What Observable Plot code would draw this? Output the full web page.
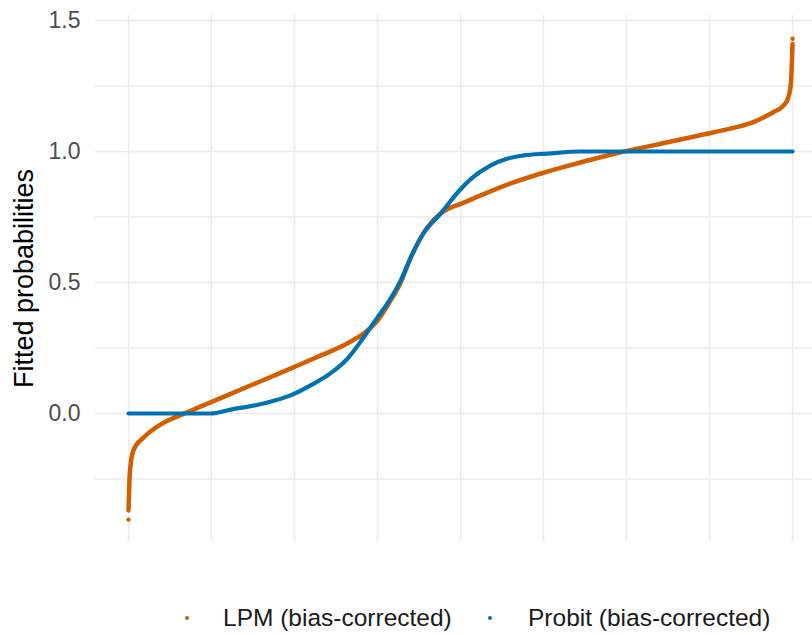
<!DOCTYPE html>
<html>
<head>
<meta charset="utf-8">
<script src="https://cdn.jsdelivr.net/npm/d3@7"></script>
<script src="https://cdn.jsdelivr.net/npm/@observablehq/plot@0.6"></script>
<style>
  html, body { margin: 0; padding: 0; background: #fff; }
  body { width: 812px; height: 635px; overflow: hidden; font-family: "Liberation Sans", Arial, sans-serif; }
  #wrap { position: relative; width: 812px; height: 635px; }
  .leg { position: absolute; top: 603px; display: flex; align-items: center; font-size: 24.5px; color: #1a1a1a; white-space: nowrap; }
  .key { width: 18px; height: 30px; display: flex; align-items: center; justify-content: center; }
  .key span { width: 4px; height: 4px; border-radius: 50%; display: block; }
</style>
</head>
<body>
<div id="wrap">
  <div id="chart"></div>
  <div class="leg" style="left:178px"><div class="key"><span style="background:#D55E00"></span></div><div style="margin-left:27px">LPM (bias-corrected)</div></div>
  <div class="leg" style="left:481px"><div class="key"><span style="background:#0072B2"></span></div><div style="margin-left:29px">Probit (bias-corrected)</div></div>
</div>
<script>
const rankLPM = [0, 0.0015, 0.003, 0.0075, 0.0226, 0.0377, 0.0587, 0.0783, 0.1084, 0.128, 0.179, 0.229, 0.279, 0.33, 0.354, 0.375, 0.392, 0.41, 0.425, 0.45, 0.47, 0.505, 0.545, 0.58, 0.62, 0.666, 0.711, 0.756, 0.812, 0.861, 0.911, 0.937, 0.971, 0.985, 0.992, 0.997, 0.9985, 1.0];
const lpmFitted = [-0.37, -0.25, -0.20, -0.14, -0.092, -0.06, -0.028, -0.006, 0.026, 0.047, 0.102, 0.155, 0.21, 0.268, 0.305, 0.355, 0.42, 0.50, 0.595, 0.71, 0.763, 0.805, 0.848, 0.882, 0.915, 0.948, 0.978, 1.005, 1.035, 1.062, 1.09, 1.108, 1.15, 1.172, 1.195, 1.245, 1.30, 1.41];
const lpmExtremeRank = [0, 1];
const lpmExtremeFitted = [-0.405, 1.43];

const rankProbit = [0, 0.123, 0.154, 0.203, 0.244, 0.279, 0.304, 0.33, 0.354, 0.375, 0.39, 0.41, 0.425, 0.444, 0.47, 0.498, 0.518, 0.545, 0.571, 0.595, 0.631, 0.681, 1.0];
const probitFitted = [0, 0, 0.015, 0.038, 0.069, 0.114, 0.153, 0.21, 0.29, 0.367, 0.42, 0.508, 0.595, 0.687, 0.763, 0.85, 0.90, 0.946, 0.973, 0.985, 0.992, 1.0, 1.0];

const yTicks = [0, 0.5, 1.0, 1.5];
const yMinor = [-0.25, 0.25, 0.75, 1.25];
const xGrid = [0, 0.125, 0.25, 0.375, 0.5, 0.625, 0.75, 0.875, 1];

const lpm = rankLPM.map((r, i) => ({rank: r, p: lpmFitted[i]}));
const lpmExt = lpmExtremeRank.map((r, i) => ({rank: r, p: lpmExtremeFitted[i]}));
const probit = rankProbit.map((r, i) => ({rank: r, p: probitFitted[i]}));

const ORANGE = "#D55E00", BLUE = "#0072B2";

const chart = Plot.plot({
  width: 812,
  height: 560,
  marginLeft: 95,
  marginRight: 0,
  marginTop: 15,
  marginBottom: 19,
  style: {fontFamily: "Liberation Sans, Arial, sans-serif", background: "#fff"},
  x: {domain: [-0.0497, 1.0301], axis: null},
  y: {domain: [-0.4885, 1.519], axis: null},
  marks: [
    Plot.gridY(yMinor, {stroke: "#EBEBEB", strokeOpacity: 1, strokeWidth: 1.3}),
    Plot.gridY(yTicks, {stroke: "#EBEBEB", strokeOpacity: 1, strokeWidth: 1.6}),
    Plot.gridX(xGrid, {stroke: "#EBEBEB", strokeOpacity: 1, strokeWidth: 1.5}),
    Plot.axisY(yTicks, {
      tickSize: 0, tickPadding: 15, fontSize: 23, fill: "#4D4D4D",
      tickFormat: d3.format(".1f"),
      label: "Fitted probabilities", labelAnchor: "center", labelArrow: "none",
      labelOffset: 82
    }),
    Plot.line(lpm, {x: "rank", y: "p", stroke: ORANGE, strokeWidth: 4.5, curve: "monotone-x"}),
    Plot.dot(lpmExt, {x: "rank", y: "p", fill: ORANGE, r: 2.2}),
    Plot.line(probit, {x: "rank", y: "p", stroke: BLUE, strokeWidth: 4.2, curve: "monotone-x"})
  ]
});
document.getElementById("chart").appendChild(chart);
chart.querySelectorAll("g[aria-label='y-axis label'] text").forEach(t => { t.style.fontSize = "27px"; t.setAttribute("fill", "#000"); });
</script>
</body>
</html>
